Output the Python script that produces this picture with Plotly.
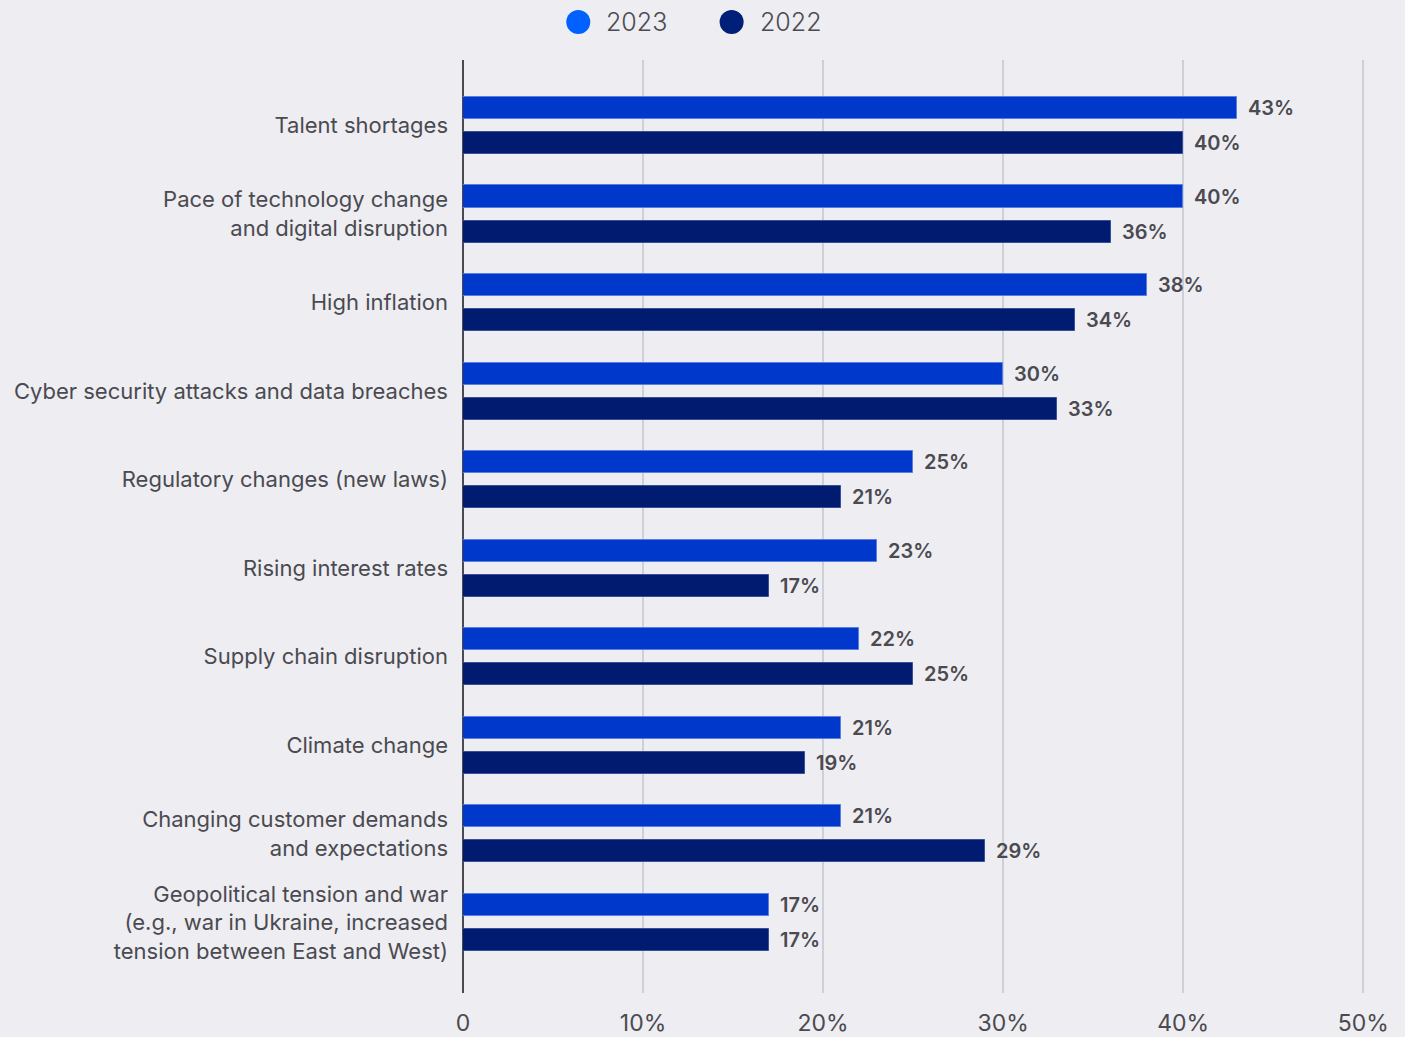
import plotly.graph_objects as go

# Survey data: share of respondents naming each risk
categories = [
    "Talent shortages",
    "Pace of technology change<br>and digital disruption",
    "High inflation",
    "Cyber security attacks and data breaches",
    "Regulatory changes (new laws)",
    "Rising interest rates",
    "Supply chain disruption",
    "Climate change",
    "Changing customer demands<br>and expectations",
    "Geopolitical tension and war<br>(e.g., war in Ukraine, increased<br>tension between East and West)",
]
values_2023 = [43, 40, 38, 30, 25, 23, 22, 21, 21, 17]
values_2022 = [40, 36, 34, 33, 21, 17, 25, 19, 29, 17]

x_ticks = [0, 10, 20, 30, 40, 50]
x_tick_labels = ["0", "10%", "20%", "30%", "40%", "50%"]

BG = "#EDEDF2"
TEXT = "#4A4A50"
BAR_W = 0.25
OFFSET = 0.198
FONT = "Inter"

fig = go.Figure()

series = [
    ("2023", values_2023, "#0038CC", "#5a7fe0", "#0061FF", -OFFSET, 0.1278),
    ("2022", values_2022, "#001B70", "#3a4f99", "#001F78", OFFSET, 0.2978),
]

for name, vals, bar_col, edge_col, legend_col, off, lx in series:
    fig.add_trace(go.Bar(
        y=categories, x=vals, orientation="h", name=name,
        marker=dict(color=bar_col, line=dict(color=edge_col, width=1)),
        width=BAR_W, offset=off - BAR_W / 2,
        showlegend=False, hoverinfo="x+y",
    ))
    # value labels placed just past each bar end
    for i, v in enumerate(vals):
        fig.add_annotation(
            x=v, y=i + off, xref="x", yref="y",
            text=f"{v}%", showarrow=False, xanchor="left", xshift=9,
            font=dict(family=FONT, size=20, color=TEXT, weight=600),
        )
    # legend: round swatch plus year label above the plot
    fig.add_shape(
        type="circle", xref="paper", yref="paper",
        xsizemode="pixel", ysizemode="pixel", xanchor=lx, yanchor=1.0407,
        x0=-12, x1=12, y0=-12, y1=12,
        fillcolor=legend_col, line=dict(width=0),
    )
    fig.add_annotation(
        x=lx, y=1.0407, xref="paper", yref="paper", xshift=26,
        text=name, showarrow=False, xanchor="left", yanchor="middle",
        font=dict(family=FONT, size=25, color=TEXT, weight=300),
    )

fig.update_layout(
    width=1405, height=1037,
    paper_bgcolor=BG, plot_bgcolor=BG,
    margin=dict(l=463, r=40, t=60, b=44, autoexpand=False),
    bargap=0,
    showlegend=False,
    font=dict(family=FONT, color=TEXT),
)

fig.update_xaxes(
    range=[0, 50.1], tickvals=x_ticks, ticktext=x_tick_labels,
    showgrid=True, gridcolor="#CFCFD6", gridwidth=2,
    zeroline=True, zerolinecolor="#4A4A50", zerolinewidth=2,
    showline=False, ticks="", ticklabelstandoff=14, automargin=False,
    tickfont=dict(size=23, color=TEXT),
)
fig.update_yaxes(
    type="category", range=[9.797, -0.740],
    showgrid=False, zeroline=False, showline=False, ticks="",
    ticklabelstandoff=14, automargin=False,
    tickfont=dict(size=22, color=TEXT),
)

fig.write_html("out.html")
